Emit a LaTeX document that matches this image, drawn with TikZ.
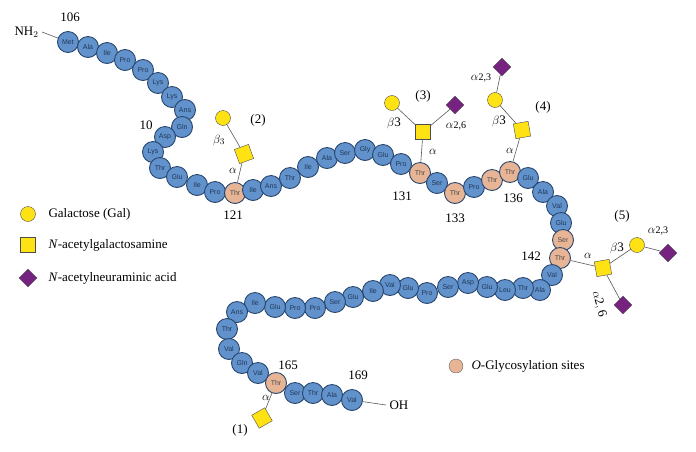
\documentclass[tikz,border=0pt]{standalone}
\usepackage{fontspec}
\setmainfont{Liberation Serif}
\setsansfont{Liberation Sans}
\usetikzlibrary{shapes.geometric}
\definecolor{beadblue}{RGB}{98,146,204}
\definecolor{beadedge}{RGB}{40,70,110}
\definecolor{glyorange}{RGB}{232,180,150}
\definecolor{galyellow}{RGB}{255,226,20}
\definecolor{siapurple}{RGB}{118,34,128}
\begin{document}
\begin{tikzpicture}
        [x=1pt, y=-1pt,
        bead/.style={circle, draw=beadedge, line width=0.9pt, fill=beadblue, minimum size=21pt, inner sep=0pt,
          font=\sffamily\fontsize{7}{7}\selectfont, text=beadedge!80!black},
        site/.style={bead, fill=glyorange, text=black!70},
        gal/.style={circle, draw=black!70, fill=galyellow, minimum size=15pt, inner sep=0pt},
        galnac/.style={rectangle, draw=black!70, fill=galyellow, minimum size=15pt, inner sep=0pt},
        neu/.style={diamond, draw=black!70, fill=siapurple, minimum size=18pt, inner sep=0pt},
        link/.style={gray!70!black, line width=0.6pt},
        lbl/.style={font=\fontsize{13}{13}\selectfont}]

        \useasboundingbox (0,0) rectangle (696,451);

        % peptide chain, residues 106 to 169
        \foreach \x/\y/\aa/\s [count=\i from 106] in {
          68/42/Met/bead, 88/47/Ala/bead, 107/53/Ile/bead, 125/60/Pro/bead, 143/70/Pro/bead,
          158/83/Lys/bead, 172/97/Lys/bead, 185/110/Ans/bead, 182/127/Gln/bead, 165/137/Asp/bead,
          153/152/Lys/bead, 160/168/Thr/bead, 177/177/Glu/bead, 197/185/Ile/bead, 215/192/Pro/bead,
          235/193/Thr/site, 253/190/Ile/bead, 271/186/Ans/bead, 290/178/Thr/bead, 308/167/Ile/bead,
          327/158/Ala/bead, 345/153/Ser/bead, 365/150/Gly/bead, 383/155/Glu/bead, 401/164/Pro/bead,
          420/173/Thr/site, 437/183/Ser/bead, 455/193/Thr/site, 474/187/Pro/bead, 492/180/Thr/site,
          510/172/Thr/site, 528/178/Glu/bead, 543/192/Ala/bead, 557/206/Val/bead, 561/223/Glu/bead,
          563/240/Ser/site, 560/258/Thr/site, 552/275/Val/bead, 540/290/Ala/bead, 523/288/Thr/bead,
          505/290/Leu/bead, 487/287/Glu/bead, 468/283/Asp/bead, 448/287/Ser/bead, 427/293/Pro/bead,
          408/288/Glu/bead, 390/285/Val/bead, 373/291/Ile/bead, 353/297/Glu/bead, 335/302/Ser/bead,
          315/308/Pro/bead, 295/308/Pro/bead, 275/307/Glu/bead, 255/303/Ile/bead, 237/312/Ans/bead,
          227/329/Thr/bead, 229/349/Val/bead, 242/363/Gln/bead, 258/373/Val/bead, 276/383/Thr/site,
          295/393/Ser/bead, 313/393/Thr/bead, 332/395/Ala/bead, 352/400/Val/bead}
          \node[\s] (r\i) at (\x,\y) {\aa};

        % termini
        \node[lbl, anchor=east] (nh) at (42,32) {NH$_2$};
        \node[lbl, anchor=west] (oh) at (386,405) {OH};
        \draw[link] (nh.east) -- (r106);
        \draw[link] (r169) -- (oh.west);

        % residue numbers
        \node[lbl] (n106) at (70,17) {106};
        \node[lbl] (n10) at (146,125) {10};
        \node[lbl] (n121) at (233,215) {121};
        \node[lbl] (n131) at (402,196) {131};
        \node[lbl] (n133) at (455,218) {133};
        \node[lbl] (n136) at (513,198) {136};
        \node[lbl] (n142) at (531,256) {142};
        \node[lbl] (n165) at (288,365) {165};
        \node[lbl] (n169) at (358,375) {169};

        % glycan (1)
        \node[galnac, rotate=30] (s1) at (262,418) {};
        \draw[link] (r165) -- (s1);
        \node[lbl] at (266,398) {$\alpha$};
        \node[lbl] at (240,430) {(1)};

        % glycan (2)
        \node[galnac, rotate=20] (s2) at (244,154) {};
        \node[gal] (g2) at (223,118) {};
        \draw[link] (r121) -- (s2) -- (g2);
        \node[lbl] at (233,171) {$\alpha$};
        \node[lbl] at (219,140) {$\beta_3$};
        \node[lbl] at (258,120) {(2)};

        % glycan (3)
        \node[galnac] (s3) at (423,132) {};
        \node[gal] (g3) at (392,103) {};
        \node[neu] (d3) at (455,105) {};
        \draw[link] (r131) -- (s3) -- (g3);
        \draw[link] (s3) -- (d3);
        \node[lbl] at (433,152) {$\alpha$};
        \node[lbl] at (394,123) {$\beta$3};
        \node[lbl] at (456,126) {$\alpha$\fontsize{10}{10}\selectfont2,6};
        \node[lbl] at (423,96) {(3)};

        % glycan (4)
        \node[galnac, rotate=10] (s4) at (522,130) {};
        \node[gal] (g4) at (495,100) {};
        \node[neu] (d4) at (502,67) {};
        \draw[link] (r136) -- (s4) -- (g4) -- (d4);
        \node[lbl] at (510,151) {$\alpha$};
        \node[lbl] at (499,121) {$\beta$3};
        \node[lbl] at (481,78) {$\alpha$\fontsize{10}{10}\selectfont2,3};
        \node[lbl] at (543,107) {(4)};

        % glycan (5)
        \node[galnac, rotate=10] (s5) at (603,268) {};
        \node[gal] (g5) at (637,245) {};
        \node[neu] (d5a) at (668,253) {};
        \node[neu] (d5b) at (623,305) {};
        \draw[link] (r142) -- (s5) -- (g5) -- (d5a);
        \draw[link] (s5) -- (d5b);
        \node[lbl] at (588,256) {$\alpha$};
        \node[lbl] at (617,248) {$\beta$3};
        \node[lbl] at (658,231) {$\alpha$\fontsize{10}{10}\selectfont2,3};
        \node[lbl, rotate=-75, inner sep=0pt] at (599,304) {$\alpha\mathrm{2,6}$};
        \node[lbl] at (622,216) {(5)};

        % legend
        \node[gal] (lg1) at (28,214) {};
        \node[galnac] (lg2) at (28,245) {};
        \node[neu] (lg3) at (28,278) {};
        \node[circle, draw=black!60, fill=glyorange, minimum size=14pt, inner sep=0pt] (lg4) at (456,366) {};
        \node[lbl, anchor=west] at (45,214) {Galactose (Gal)};
        \node[lbl, anchor=west] at (45,245) {\textit{N}-acetylgalactosamine};
        \node[lbl, anchor=west] at (45,278) {\textit{N}-acetylneuraminic acid};
        \node[lbl, anchor=west] at (468,366) {\textit{O}-Glycosylation sites};

        \end{tikzpicture}
\end{document}
